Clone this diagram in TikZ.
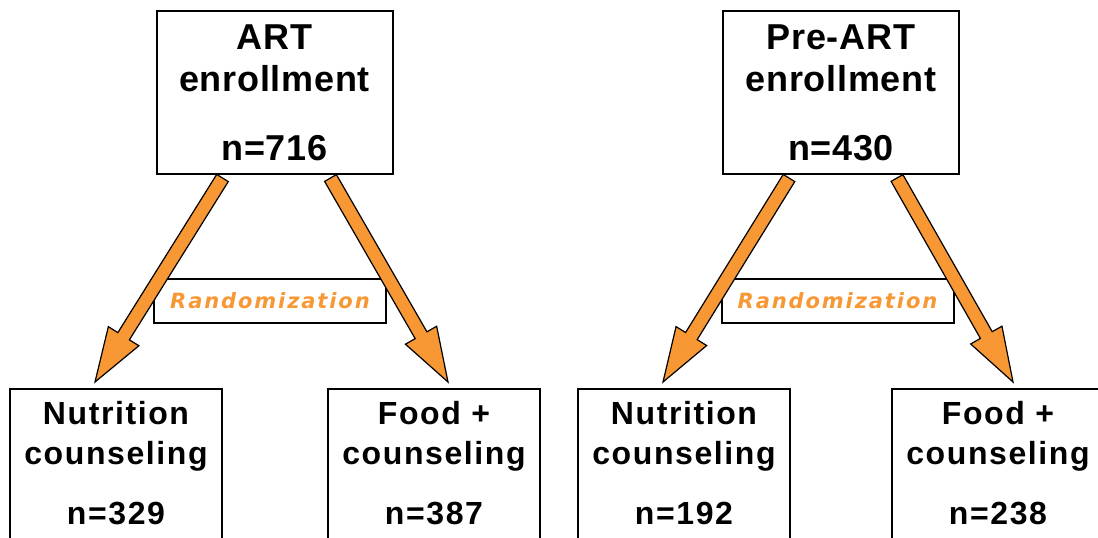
\documentclass[tikz,border=0pt]{standalone}
\usepackage{fontspec}
\setmainfont{Liberation Sans}
\newfontfamily\boxfont[LetterSpace=2]{Liberation Sans}
\newfontfamily\armfont[LetterSpace=5]{Liberation Sans}
\newfontfamily\randfont[LetterSpace=9]{DejaVu Sans}
\usetikzlibrary{calc}
\definecolor{armorange}{RGB}{247,152,52}
\tikzset{
    enrolbox/.style={draw,line width=1pt,fill=white,anchor=north,align=center,minimum width=118pt,minimum height=81.5pt,font=\fontsize{18}{21}\boxfont\bfseries},
    armbox/.style={draw,line width=1pt,fill=white,anchor=north,align=center,minimum width=106pt,inner ysep=6pt,text depth=7pt,font=\fontsize{16}{20}\armfont\bfseries},
    randbox/.style={draw,line width=1pt,fill=white,minimum width=116pt,minimum height=22pt,inner sep=0pt,text=armorange,font=\fontsize{10.5}{12}\randfont\bfseries\itshape},
    fatarrow/.style={draw=black,line width=0.6pt,fill=armorange,line join=miter},
}
% block arrow from #1 to #2
\newcommand{\fatarrow}[2]{%
    \coordinate (neck) at ($(#2)!27pt!(#1)$);
    \draw[fatarrow] ($(#1)!3.4pt!90:(#2)$) -- ($(neck)!3.4pt!90:(#2)$) -- ($(neck)!9pt!90:(#2)$) -- (#2)
        -- ($(neck)!9pt!-90:(#2)$) -- ($(neck)!3.4pt!-90:(#2)$) -- ($(#1)!3.4pt!-90:(#2)$) -- cycle;}
\begin{document}
\begin{tikzpicture}[x=0.5pt,y=-0.5pt]
\useasboundingbox (0,0) rectangle (1098,537);

% ART arm
\node[enrolbox] (art) at (274.5,10) {ART\\enrollment\\[13.5pt]n=716};
\node[armbox] (nut1) at (116,388) {Nutrition\\counseling\\[10pt]n=329};
\node[armbox] (food1) at (434,388) {Food +\\counseling\\[10pt]n=387};
\node[randbox] (rand1) at (270,301) {Randomization};

% Pre-ART arm
\node[enrolbox] (preart) at (841,10) {Pre-ART\\enrollment\\[13.5pt]n=430};
\node[armbox] (nut2) at (684,388) {Nutrition\\counseling\\[10pt]n=192};
\node[armbox] (food2) at (998,388) {Food +\\counseling\\[10pt]n=238};
\node[randbox] (rand2) at (837.5,301) {Randomization};

\coordinate (art-l) at ($(art.south)+(-52,3)$);
\coordinate (art-r) at ($(art.south)+(56,3)$);
\coordinate (preart-l) at ($(preart.south)+(-52,3)$);
\coordinate (preart-r) at ($(preart.south)+(56,3)$);
\coordinate (nut1-t) at ($(nut1.north)+(-21,-6)$);
\coordinate (food1-t) at ($(food1.north)+(14,-6)$);
\coordinate (nut2-t) at ($(nut2.north)+(-21,-6)$);
\coordinate (food2-t) at ($(food2.north)+(15,-6)$);

\fatarrow{art-l}{nut1-t}
\fatarrow{art-r}{food1-t}
\fatarrow{preart-l}{nut2-t}
\fatarrow{preart-r}{food2-t}
\end{tikzpicture}
\end{document}
